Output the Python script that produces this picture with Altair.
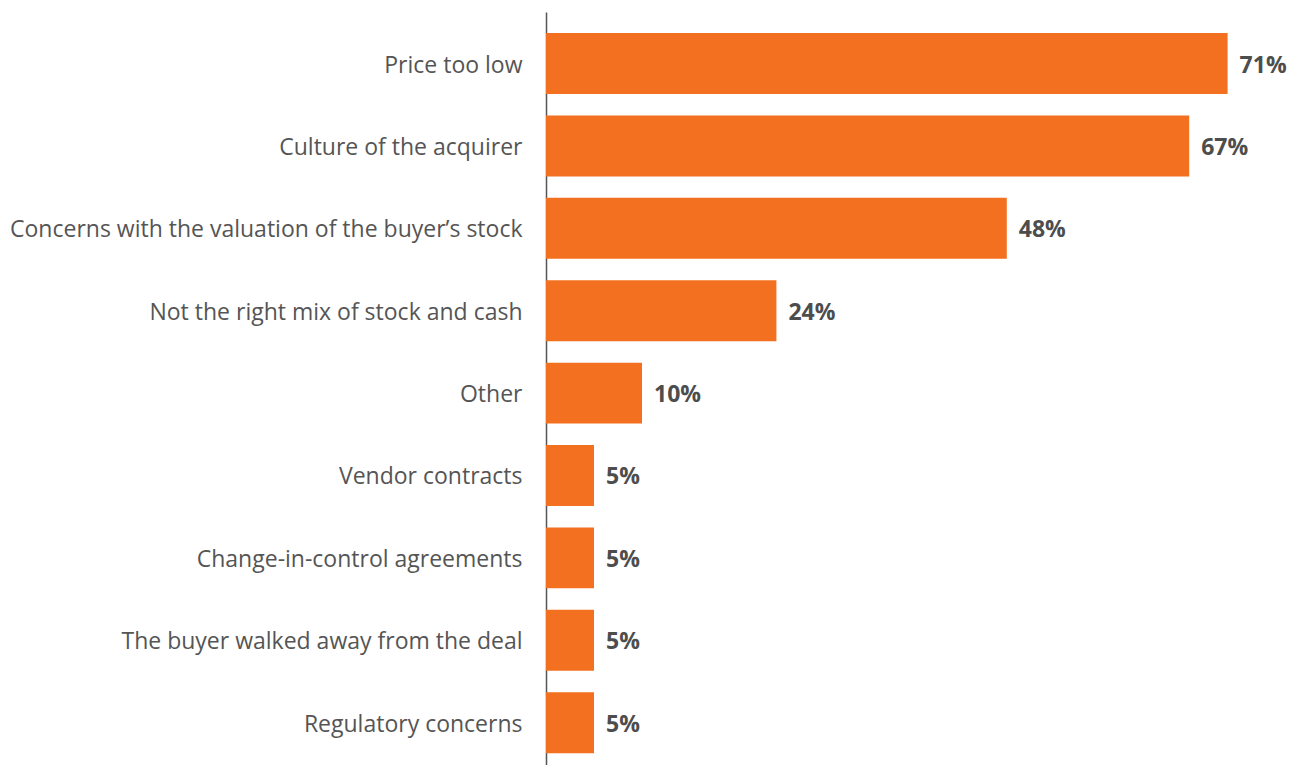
import altair as alt
import pandas as pd

categories = [
    "Price too low",
    "Culture of the acquirer",
    "Concerns with the valuation of the buyer\u2019s stock",
    "Not the right mix of stock and cash",
    "Other",
    "Vendor contracts",
    "Change-in-control agreements",
    "The buyer walked away from the deal",
    "Regulatory concerns",
]
values = [71, 67, 48, 24, 10, 5, 5, 5, 5]
labels = [f"{v}%" for v in values]

df = pd.DataFrame({"category": categories, "value": values, "label": labels})

FONT = "Open Sans"

y_enc = alt.Y(
    "category:N",
    sort=categories,
    scale=alt.Scale(paddingInner=0.26, paddingOuter=0.2, align=0.64),
    axis=alt.Axis(
        title=None,
        ticks=False,
        domain=True,
        domainColor="#555555",
        domainWidth=1.5,
        labelFont=FONT,
        labelFontSize=23,
        labelColor="#555555",
        labelPadding=24,
        labelOffset=2,
        labelLimit=600,
    ),
)
x_enc = alt.X("value:Q", scale=alt.Scale(domain=[0, 75], nice=False), axis=None)

bars = alt.Chart(df).mark_bar(color="#F37021").encode(x=x_enc, y=y_enc)
text = alt.Chart(df).mark_text(
    align="left", baseline="middle", dx=12, dy=2, font=FONT, fontSize=23,
    fontWeight="bold", color="#4d4d4d",
).encode(x=x_enc, y=y_enc, text="label:N")

chart = (
    (bars + text)
    .properties(
        width=720,
        height=753,
        autosize=alt.AutoSizeParams(type="none"),
        padding={"left": 538, "top": 4, "right": 22, "bottom": 0},
    )
    .configure_view(stroke=None)
    .configure_axis(grid=False)
)

chart.save("out.html", embed_options={"renderer": "svg", "actions": False})
